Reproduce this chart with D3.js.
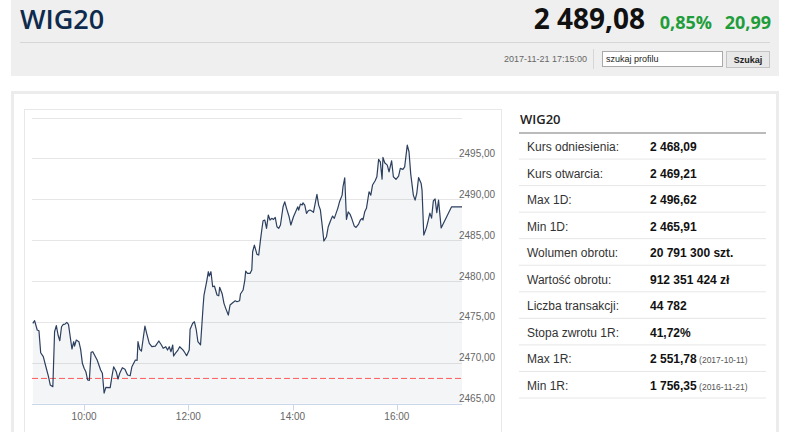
<!DOCTYPE html>
<html>
<head>
<meta charset="utf-8">
<script src="https://cdn.jsdelivr.net/npm/d3@7"></script>
<style>
  body { margin: 0; background: #fff; }
  svg { display: block; }
</style>
</head>
<body>
<svg id="canvas" width="786" height="432"></svg>
<script>
// intraday WIG20, 2017-11-21
const times = [
  '09:01','09:03','09:06','09:08','09:10','09:13','09:16','09:19','09:21','09:24',
  '09:26','09:28','09:30','09:32','09:34','09:36','09:38','09:40','09:42','09:44',
  '09:46','09:48','09:49','09:51','09:54','09:56','09:58','10:00','10:02','10:04',
  '10:06','10:08','10:10','10:13','10:15','10:17','10:19','10:21','10:23','10:25',
  '10:30','10:32','10:34','10:37','10:39','10:41','10:44','10:47','10:50','10:53',
  '10:55','10:59','11:01','11:02','11:04','11:06','11:10','11:12','11:15','11:18',
  '11:22','11:26','11:29','11:31','11:34','11:36','11:38','11:40','11:42','11:43',
  '11:45','11:48','11:50','11:54','11:56','11:58','12:01','12:02','12:05','12:07',
  '12:09','12:11','12:14','12:17','12:18','12:21','12:23','12:24','12:26','12:28',
  '12:30','12:33','12:35','12:36','12:39','12:41','12:43','12:46','12:48','12:51',
  '12:54','12:56','12:59','13:00','13:03','13:05','13:06','13:08','13:11','13:13',
  '13:14','13:16','13:19','13:21','13:23','13:25','13:26','13:28','13:30','13:32',
  '13:34','13:36','13:38','13:40','13:42','13:44','13:46','13:49','13:51','13:53',
  '13:56','13:58','14:01','14:04','14:06','14:07','14:09','14:11','14:12','14:14',
  '14:16','14:18','14:20','14:22','14:24','14:26','14:28','14:30','14:32','14:34',
  '14:36','14:39','14:41','14:44','14:46','14:48','14:50','14:52','14:54','14:57',
  '14:58','15:00','15:02','15:04','15:06','15:08','15:11','15:13','15:16','15:18',
  '15:20','15:21','15:23','15:25','15:28','15:30','15:32','15:35','15:37','15:39',
  '15:41','15:43','15:44','15:46','15:49','15:51','15:54','15:56','15:59','16:02',
  '16:04','16:07','16:09','16:12','16:14','16:16','16:19','16:21','16:23','16:25',
  '16:28','16:29','16:31','16:34','16:36','16:38','16:40','16:42','16:44','16:46',
  '16:48','16:51','17:03','17:15'
];

const values = [
  2474.83,2475.15,2474.01,2473.92,2471.23,2470.75,2469.52,2468.30,2467.29,2467.08,
  2473.80,2474.54,2473.40,2472.70,2474.41,2474.71,2474.74,2474.95,2474.70,2473.19,
  2471.69,2472.58,2472.05,2472.79,2472.58,2471.65,2469.94,2469.33,2468.91,2467.90,
  2467.85,2471.28,2471.36,2470.75,2470.34,2469.73,2469.12,2468.72,2466.30,2467.00,
  2466.96,2468.30,2469.52,2468.91,2468.02,2468.72,2469.40,2469.21,2468.51,2468.42,
  2469.52,2470.34,2470.30,2472.58,2471.65,2471.44,2474.50,2473.61,2472.38,2471.97,
  2472.05,2472.67,2472.18,2471.77,2471.97,2471.56,2471.97,2471.36,2472.18,2470.83,
  2471.16,2471.56,2471.97,2471.56,2471.23,2470.87,2471.56,2474.10,2474.83,2475.02,
  2474.10,2472.58,2472.18,2476.94,2478.29,2479.91,2481.14,2480.61,2481.14,2479.30,
  2479.39,2478.29,2478.20,2479.23,2478.41,2477.27,2476.66,2475.84,2477.07,2477.35,
  2477.59,2477.47,2477.59,2478.41,2478.90,2480.12,2481.22,2480.94,2480.94,2481.34,
  2483.58,2484.40,2483.26,2483.18,2485.01,2486.64,2487.37,2487.46,2486.44,2488.07,
  2487.46,2487.67,2487.54,2487.79,2486.64,2486.44,2486.85,2489.08,2489.69,2488.89,
  2487.86,2486.85,2487.86,2488.59,2489.08,2488.68,2489.41,2489.29,2489.57,2489.29,
  2488.28,2488.59,2488.68,2488.56,2488.40,2489.50,2490.60,2489.29,2488.68,2486.85,
  2484.89,2485.42,2486.64,2487.46,2487.95,2487.67,2488.28,2488.89,2489.69,2490.51,
  2491.53,2492.63,2487.54,2488.47,2488.19,2487.67,2486.72,2486.56,2486.97,2487.46,
  2487.67,2487.46,2488.47,2488.89,2490.92,2490.51,2491.74,2492.26,2492.75,2494.88,
  2494.58,2492.47,2495.12,2494.46,2494.18,2493.36,2494.71,2492.75,2492.43,2492.84,
  2493.78,2493.66,2493.97,2496.62,2495.81,2493.08,2490.51,2489.90,2490.76,2492.65,
  2491.92,2491.12,2485.62,2486.50,2487.36,2488.31,2487.70,2489.80,2490.05,2488.37,
  2489.90,2486.50,2489.08,2489.08
];

const referenceLevel = 2468.09;
const yTicks = [2465, 2470, 2475, 2480, 2485, 2490, 2495, 2500];
const timeStart = '09:00';
const timeEnd = '17:15';

const statLabels = [
  'Kurs odniesienia:', 'Kurs otwarcia:', 'Max 1D:', 'Min 1D:', 'Wolumen obrotu:',
  'Wartość obrotu:', 'Liczba transakcji:', 'Stopa zwrotu 1R:', 'Max 1R:', 'Min 1R:'
];
const statValues = [
  '2 468,09', '2 469,21', '2 496,62', '2 465,91', '20 791 300 szt.',
  '912 351 424 zł', '44 782', '41,72%', '2 551,78', '1 756,35'
];
const statDates = ['', '', '', '', '', '', '', '', '(2017-10-11)', '(2016-11-21)'];

const svg = d3.select('#canvas');
const parseTime = d3.timeParse('%H:%M');
const plFormat = d3.formatLocale({ decimal: ',', thousands: ' ', grouping: [3], currency: ['', ' zł'] }).format(',.2f');

const sansOpen = "'Open Sans', 'Noto Sans', sans-serif";
const sansArial = "'Liberation Sans', Arial, sans-serif";

// header block
svg.append('rect').attr('x', 11).attr('y', 0).attr('width', 768).attr('height', 76).attr('fill', '#efefef');
svg.append('text').attr('x', 20).attr('y', 29).text('WIG20')
  .style('font-family', sansOpen).style('font-size', '27px').style('font-weight', 600).attr('fill', '#0e2a4d');
svg.append('line').attr('x1', 20).attr('x2', 770).attr('y1', 42.5).attr('y2', 42.5).attr('stroke', '#d6d6d6');

svg.append('text').attr('x', 645).attr('y', 29).attr('text-anchor', 'end').text('2 489,08')
  .style('font-family', sansOpen).style('font-size', '28px').style('font-weight', 700).attr('fill', '#111');
svg.append('text').attr('x', 712).attr('y', 29).attr('text-anchor', 'end').text('0,85%')
  .style('font-family', sansOpen).style('font-size', '18px').style('font-weight', 700).attr('fill', '#1f9d3b');
svg.append('text').attr('x', 771).attr('y', 29).attr('text-anchor', 'end').text('20,99')
  .style('font-family', sansOpen).style('font-size', '18px').style('font-weight', 700).attr('fill', '#1f9d3b');

svg.append('text').attr('x', 587).attr('y', 62).attr('text-anchor', 'end').text('2017-11-21 17:15:00')
  .style('font-family', sansArial).style('font-size', '9px').attr('fill', '#666');
svg.append('line').attr('x1', 593.5).attr('x2', 593.5).attr('y1', 49).attr('y2', 69).attr('stroke', '#d6d6d6');
svg.append('rect').attr('x', 602.5).attr('y', 51.5).attr('width', 120).attr('height', 15)
  .attr('fill', '#fff').attr('stroke', '#a9a9a9');
svg.append('text').attr('x', 606).attr('y', 62).text('szukaj profilu')
  .style('font-family', sansArial).style('font-size', '9px').attr('fill', '#222');
svg.append('rect').attr('x', 726.5).attr('y', 51.5).attr('width', 43).attr('height', 16)
  .attr('fill', '#e8e8e8').attr('stroke', '#c4c4c4');
svg.append('text').attr('x', 748).attr('y', 62.5).attr('text-anchor', 'middle').text('Szukaj')
  .style('font-family', sansArial).style('font-size', '9px').style('font-weight', 700).attr('fill', '#222');

// main panel and chart frame
svg.append('rect').attr('x', 12.5).attr('y', 92.5).attr('width', 765).attr('height', 360)
  .attr('fill', '#fff').attr('stroke', '#ececec').attr('stroke-width', 3);
svg.append('rect').attr('x', 24.5).attr('y', 109.5).attr('width', 477).attr('height', 340)
  .attr('fill', 'none').attr('stroke', '#e8e8e8');

// chart
const data = times.map((t, i) => ({ t: parseTime(t), v: values[i] }));

const x = d3.scaleTime()
  .domain([parseTime(timeStart), parseTime(timeEnd)])
  .range([32, 462]);
const y = d3.scaleLinear()
  .domain([2465, 2500])
  .range([403.7, 117.5]);

svg.append('g')
  .selectAll('line')
  .data(yTicks)
  .enter()
  .append('line')
  .attr('x1', 32).attr('x2', 462)
  .attr('y1', (d) => Math.round(y(d)) + 0.5)
  .attr('y2', (d) => Math.round(y(d)) + 0.5)
  .attr('stroke', '#e6e6e6');

const area = d3.area()
  .x((d) => x(d.t))
  .y0(y(2465))
  .y1((d) => y(d.v));
svg.append('path').datum(data).attr('d', area).attr('fill', 'rgba(45,70,110,0.055)');

svg.append('line')
  .attr('x1', 32).attr('x2', 462)
  .attr('y1', y(referenceLevel)).attr('y2', y(referenceLevel))
  .attr('stroke', '#ff5a5a').attr('stroke-width', 1).attr('stroke-dasharray', '6,3');

const line = d3.line()
  .x((d) => x(d.t))
  .y((d) => y(d.v));
svg.append('path').datum(data).attr('d', line)
  .attr('fill', 'none').attr('stroke', '#2c3f5e').attr('stroke-width', 1.2).attr('stroke-linejoin', 'round');

// x axis
const xAxis = svg.append('g').attr('transform', 'translate(0,' + (Math.round(y(2465)) + 0.5) + ')');
xAxis.append('line').attr('x1', 32).attr('x2', 462).attr('stroke', '#ccd6eb');
const xTicks = x.ticks(d3.timeHour.every(2));
xAxis.selectAll('.tick')
  .data(xTicks)
  .enter()
  .append('line')
  .attr('x1', (d) => Math.round(x(d)) + 0.5)
  .attr('x2', (d) => Math.round(x(d)) + 0.5)
  .attr('y1', 0).attr('y2', 6)
  .attr('stroke', '#ccd6eb');
xAxis.selectAll('text')
  .data(xTicks)
  .enter()
  .append('text')
  .attr('x', (d) => x(d))
  .attr('y', 15)
  .attr('text-anchor', 'middle')
  .text(d3.timeFormat('%H:%M'))
  .style('font-family', sansArial).style('font-size', '10px').attr('fill', '#666');

// y labels (right side)
svg.append('g')
  .selectAll('text')
  .data(yTicks.filter((d) => d < 2500))
  .enter()
  .append('text')
  .attr('x', 459)
  .attr('y', (d) => y(d) - 1.5)
  .text((d) => plFormat(d).replace(' ', ''))
  .style('font-family', sansArial).style('font-size', '10px').attr('fill', '#666');

// stats table
svg.append('text').attr('x', 520).attr('y', 123.5).text('WIG20')
  .style('font-family', sansOpen).style('font-size', '13px').style('font-weight', 600).attr('fill', '#222');
svg.append('line').attr('x1', 519).attr('x2', 766).attr('y1', 133).attr('y2', 133)
  .attr('stroke', '#a5a5a5').attr('stroke-width', 1.5);

const rowStep = 26.55;
const rows = svg.append('g')
  .selectAll('g')
  .data(statLabels)
  .enter()
  .append('g')
  .attr('transform', (d, i) => 'translate(0,' + (132.5 + i * rowStep) + ')');

rows.append('line')
  .attr('x1', 519).attr('x2', 766)
  .attr('y1', rowStep).attr('y2', rowStep)
  .attr('stroke', '#e6e6e6');
rows.append('text')
  .attr('x', 527).attr('y', 18.5)
  .text((d) => d)
  .style('font-family', sansArial).style('font-size', '12px').attr('fill', '#333');
const valText = rows.append('text')
  .attr('x', 650).attr('y', 18.5)
  .style('font-family', sansArial).style('font-size', '12px').attr('fill', '#111');
valText.append('tspan')
  .style('font-weight', 700)
  .text((d, i) => statValues[i]);
valText.append('tspan')
  .style('font-size', '8.5px').attr('fill', '#555')
  .text((d, i) => (statDates[i] ? ' ' + statDates[i] : ''));
</script>
</body>
</html>
